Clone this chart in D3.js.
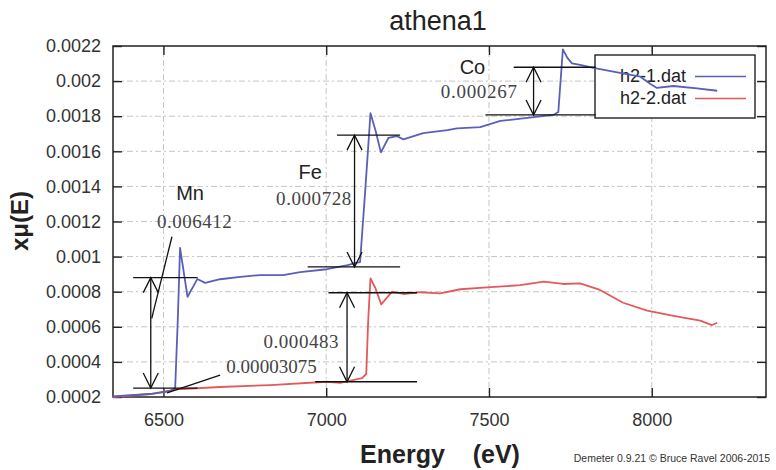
<!DOCTYPE html>
<html><head><meta charset="utf-8">
<script src="https://cdn.jsdelivr.net/npm/d3@7"></script>
<style>
html,body{margin:0;padding:0;background:#fff;}
svg{display:block;}
text{font-family:"Liberation Sans",Arial,sans-serif;}
text.num{font-family:"Liberation Serif","DejaVu Serif",serif;}
</style></head>
<body>
<svg id="chart" width="776" height="470"></svg>
<script>
// ---------- data ----------
const xTicks = [6500, 7000, 7500, 8000];
const yTicks = [0.0002,0.0004,0.0006,0.0008,0.001,0.0012,0.0014,0.0016,0.0018,0.002,0.0022];
const yTickLabels = ["0.0002","0.0004","0.0006","0.0008","0.001","0.0012","0.0014","0.0016","0.0018","0.002","0.0022"];
const seriesNames = ["h2-1.dat", "h2-2.dat"];

const h21E = [6345,6459,6521,6536,6544,6551,6574,6604,6628,6674,6736,6797,6868,6920,7002,7066,7091,7104,7120,7136,7151,7168,7191,7217,7237,7298,7372,7402,7473,7535,7618,7698,7713,7727,7741,7755,7780,7821,7882,7965,7996,8016,8066,8139,8201];
const h21Mu = [0.000203,0.000217,0.000234,0.000251,0.000639,0.001049,0.000771,0.000872,0.000850,0.000871,0.000884,0.000895,0.000895,0.000912,0.000928,0.000952,0.000964,0.000969,0.001380,0.001817,0.001721,0.001594,0.001676,0.001687,0.001668,0.001704,0.001721,0.001731,0.001738,0.001773,0.001790,0.001807,0.001824,0.002181,0.002132,0.002101,0.002092,0.002075,0.002054,0.002025,0.001983,0.001961,0.001972,0.001959,0.001945];

const h22E = [6345,6459,6541,6674,6828,7002,7043,7110,7123,7129,7136,7151,7169,7202,7237,7289,7350,7412,7494,7555,7596,7668,7728,7780,7841,7912,7986,8067,8149,8185,8201];
const h22Mu = [0.000200,0.000217,0.000244,0.000257,0.000268,0.000287,0.000280,0.000307,0.000331,0.000639,0.000876,0.000821,0.000728,0.000800,0.000787,0.000797,0.000791,0.000814,0.000825,0.000832,0.000838,0.000857,0.000844,0.000848,0.000810,0.000737,0.000692,0.000662,0.000635,0.000610,0.000623];

// edge-step annotations (data units): arrow x, bottom level, top level, line extents
const stepNames   = ["Mn", "Fe", "Co", "Fe2"];
const stepArrowE  = [6461, 7087, 7637, 7064];
const stepLow     = [0.000251, 0.000941, 0.001807, 0.000287];
const stepHigh    = [0.000880, 0.001692, 0.002079, 0.000794];
const stepLowE0   = [6407, 6943, 7489, 6966];
const stepLowE1   = [6605, 7227, 7828, 7279];
const stepHighE0  = [6407, 7033, 7576, 7007];
const stepHighE1  = [6605, 7227, 7828, 7279];

// element labels
const elemText = ["Mn", "Fe", "Co"];
const elemE    = [6539, 6915, 7410];
const elemMu   = [0.001323, 0.001445, 0.002040];

// numeric labels
const numText = ["0.006412", "0.000728", "0.000267", "0.000483", "0.00003075"];
const numE0   = [6480, 6846, 7352, 6807, 6693];
const numE1   = [6710, 7077, 7586, 7038, 6971];
const numMu   = [0.001161, 0.001294, 0.001902, 0.000477, 0.000335];

// leader lines
const leaderE0 = [6464, 6511];
const leaderMu0 = [0.000648, 0.000223];
const leaderE1 = [6526, 6674];
const leaderMu1 = [0.001113, 0.000325];

// ---------- chart ----------
const svg = d3.select("#chart");
const L = 113, R = 766, T = 46, B = 397;
const x = d3.scaleLinear().domain([6345, 8351]).range([L, R]);
const y = d3.scaleLinear().domain([0.0002, 0.0022]).range([B, T]);

const gridCol = "#c4c4c4";
const g = svg.append("g");

// grid
g.selectAll(".gx").data(xTicks).enter().append("line")
  .attr("x1", d => x(d)).attr("x2", d => x(d)).attr("y1", T).attr("y2", B)
  .attr("stroke", gridCol).attr("stroke-width", 1).attr("stroke-dasharray", "6,3,2,3");
g.selectAll(".gy").data(yTicks.slice(1, -1)).enter().append("line")
  .attr("x1", L).attr("x2", R).attr("y1", d => y(d)).attr("y2", d => y(d))
  .attr("stroke", gridCol).attr("stroke-width", 1).attr("stroke-dasharray", "6,3,2,3");

// axes (ticks inward, mirrored)
const tickLen = 9;
const axL = d3.axisLeft(y).tickValues(yTicks).tickSize(-tickLen).tickPadding(12)
  .tickFormat((d, i) => yTickLabels[i]);
const axR = d3.axisRight(y).tickValues(yTicks).tickSize(-tickLen).tickFormat("");
const axB = d3.axisBottom(x).tickValues(xTicks).tickSize(-tickLen).tickPadding(16).tickFormat(d3.format("d"));
const axT = d3.axisTop(x).tickValues(xTicks).tickSize(-tickLen).tickFormat("");

function styleAxis(sel){
  sel.select(".domain").remove();
  sel.selectAll(".tick line").attr("stroke", "#222").attr("stroke-width", 1.4);
  sel.selectAll(".tick text").attr("fill", "#333").attr("font-size", 18);
}
g.append("g").attr("transform", `translate(${L},0)`).call(axL).call(styleAxis);
g.append("g").attr("transform", `translate(${R},0)`).call(axR).call(styleAxis);
g.append("g").attr("transform", `translate(0,${B})`).call(axB).call(styleAxis);
g.append("g").attr("transform", `translate(0,${T})`).call(axT).call(styleAxis);

// frame
g.append("rect").attr("x", L).attr("y", T).attr("width", R - L).attr("height", B - T)
  .attr("fill", "none").attr("stroke", "#222").attr("stroke-width", 1.5);

// legend box (opaque) with entries, drawn below curves
const colors = ["#5a5fb8", "#e45a5a"];
const lg = svg.append("g");
lg.append("rect").attr("x", 595).attr("y", 55).attr("width", 160).attr("height", 63)
  .attr("fill", "#fff").attr("stroke", "#222").attr("stroke-width", 1.4);
seriesNames.forEach((n, i) => {
  const yy = 82 + i * 22;
  lg.append("text").attr("x", 686).attr("y", yy).attr("text-anchor", "end")
    .attr("font-size", 18).attr("fill", "#222").text(n);
  lg.append("line").attr("x1", 695).attr("x2", 746).attr("y1", yy - 5.5).attr("y2", yy - 5.5)
    .attr("stroke", colors[i]).attr("stroke-width", 1.6);
});

// curves
const line = d3.line().x(d => x(d[0])).y(d => y(d[1]));
const s1 = h21E.map((e, i) => [e, h21Mu[i]]);
const s2 = h22E.map((e, i) => [e, h22Mu[i]]);
svg.append("path").datum(s2).attr("d", line).attr("fill", "none")
  .attr("stroke", colors[1]).attr("stroke-width", 1.8).attr("stroke-linejoin", "round");
svg.append("path").datum(s1).attr("d", line).attr("fill", "none")
  .attr("stroke", colors[0]).attr("stroke-width", 1.8).attr("stroke-linejoin", "round");

// annotations
const an = svg.append("g").attr("stroke", "#111").attr("stroke-width", 1.3).attr("fill", "none");
stepNames.forEach((n, i) => {
  const ax = x(stepArrowE[i]), y0 = y(stepLow[i]), y1 = y(stepHigh[i]);
  an.append("line").attr("x1", x(stepLowE0[i])).attr("x2", x(stepLowE1[i])).attr("y1", y0).attr("y2", y0);
  an.append("line").attr("x1", x(stepHighE0[i])).attr("x2", x(stepHighE1[i])).attr("y1", y1).attr("y2", y1);
  an.append("line").attr("x1", ax).attr("x2", ax).attr("y1", y0).attr("y2", y1);
  const hw = 7.5, hl = Math.min(15, (y0 - y1) / 3);
  an.append("path").attr("d", `M${ax - hw},${y1 + hl}L${ax},${y1}L${ax + hw},${y1 + hl}`);
  an.append("path").attr("d", `M${ax - hw},${y0 - hl}L${ax},${y0}L${ax + hw},${y0 - hl}`);
});
leaderE0.forEach((e, i) => {
  an.append("line").attr("x1", x(e)).attr("y1", y(leaderMu0[i]))
    .attr("x2", x(leaderE1[i])).attr("y2", y(leaderMu1[i]));
});

elemText.forEach((t, i) => {
  svg.append("text").attr("x", x(elemE[i])).attr("y", y(elemMu[i]))
    .attr("font-size", 20).attr("fill", "#222").text(t);
});
numText.forEach((t, i) => {
  svg.append("text").attr("class", "num").attr("x", x(numE0[i])).attr("y", y(numMu[i]))
    .attr("font-size", 19).attr("fill", "#444")
    .attr("textLength", x(numE1[i]) - x(numE0[i])).attr("lengthAdjust", "spacing")
    .text(t);
});

// titles
svg.append("text").attr("x", 438).attr("y", 30).attr("text-anchor", "middle")
  .attr("font-size", 27).attr("fill", "#222").text("athena1");
svg.append("text").attr("transform", "translate(28,221) rotate(-90)").attr("text-anchor", "middle")
  .attr("font-size", 24).attr("font-weight", "bold").attr("fill", "#222").text("xμ(E)");
svg.append("text").attr("x", 440).attr("y", 463).attr("text-anchor", "middle")
  .attr("font-size", 25).attr("font-weight", "bold").attr("fill", "#222")
  .attr("xml:space", "preserve").style("white-space", "pre").text("Energy    (eV)");
svg.append("text").attr("x", 770).attr("y", 462).attr("text-anchor", "end")
  .attr("font-size", 10.5).attr("fill", "#333").text("Demeter 0.9.21 © Bruce Ravel 2006-2015");
</script>
</body></html>
